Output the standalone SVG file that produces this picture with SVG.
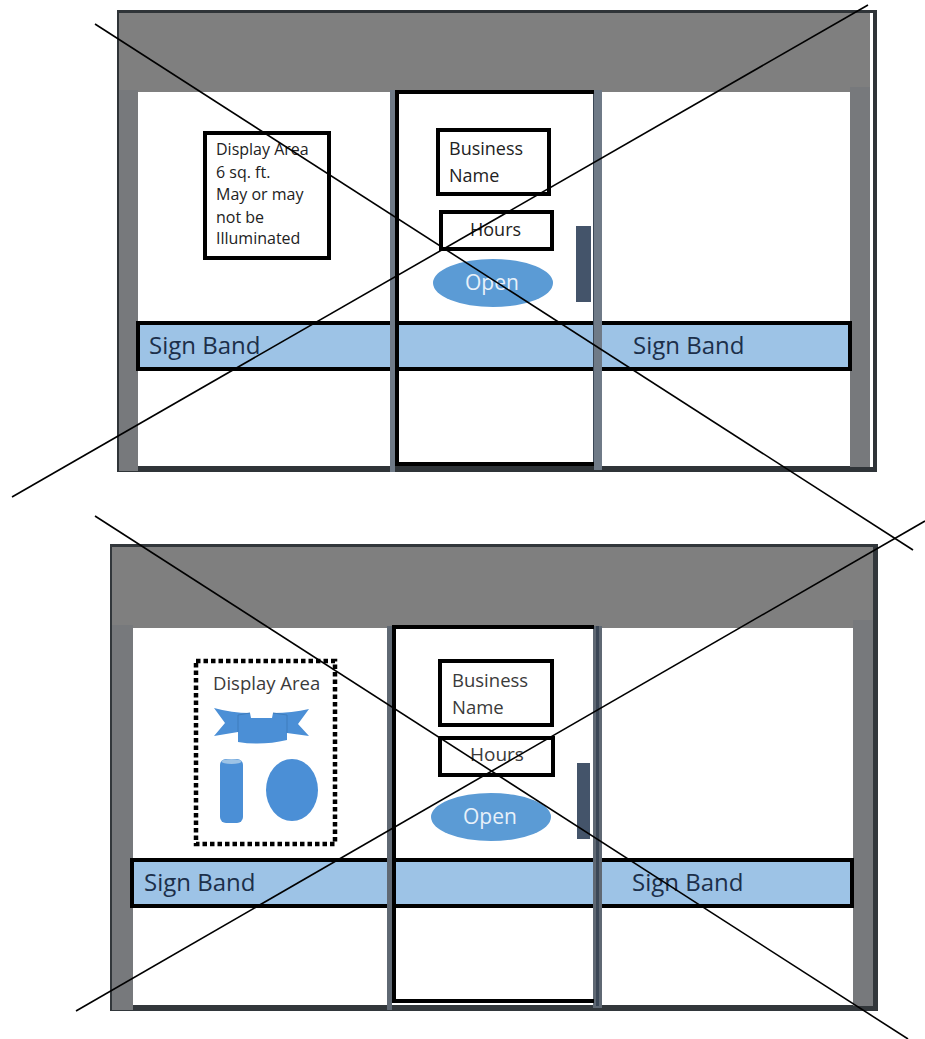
<svg xmlns="http://www.w3.org/2000/svg" width="925" height="1039" viewBox="0 0 925 1039">
<style>
.bg{fill:#fff}
.grey{fill:#7f7f7f}
.pillar{fill:#77797c}
.mull{fill:#6f7a87}
.mull2{fill:#5f6873}
.core{fill:#3b4756}
.win{fill:#fff}
.band{fill:#9dc3e6}
.bandline{stroke:#000;stroke-width:4;fill:none}
.box{fill:#fff;stroke:#000;stroke-width:4}
.door{fill:none;stroke:#000;stroke-width:4}
.blue{fill:#5b9bd5}
.blue2{fill:#4b8fd6}
.seam{fill:none;stroke:#3f7dbd;stroke-width:1}
.handle{fill:#44546a}
.t{font-family:"Open Sans","Noto Sans","Liberation Sans",sans-serif;fill:#222}
.g{fill:#3a3a3a}
.sb{font-family:"Open Sans","Noto Sans","Liberation Sans",sans-serif;fill:#1c2f4a;font-size:24px}
.w{font-family:"Open Sans","Noto Sans","Liberation Sans",sans-serif;fill:#e8f1fa;font-size:21px}
.x{stroke:#000;stroke-width:1.6;fill:none}
</style>
<rect class="bg" width="925" height="1039"/>
<g id="storefront-top">
<rect x="117" y="10" width="760" height="462" fill="#2f3438"/>
<rect x="119" y="13" width="751" height="79" class="grey"/>
<rect x="870" y="13" width="3" height="454" fill="#fff"/>
<rect x="119" y="90" width="19" height="381" class="pillar"/>
<rect x="850" y="87" width="20" height="380" class="pillar"/>
<rect x="138" y="92" width="712" height="374" class="win"/>
</g>
<g id="sign-band-top">
<rect x="138" y="323" width="712" height="46" class="band"/>
<rect x="138" y="323" width="712" height="46" class="bandline"/>
<text class="sb" x="149" y="354">Sign Band</text>
<text class="sb" x="633" y="354">Sign Band</text>
</g>
<g id="door-top">
<rect x="390" y="90" width="5" height="382" class="mull"/>
<rect x="594" y="90" width="8" height="380" class="mull"/>
<rect x="593" y="90" width="1" height="376" class="core"/>
<path d="M594 92 H397 V464 H594" class="door"/>
<rect x="576" y="226" width="15" height="76" class="handle"/>
</g>
<g id="display-top">
<rect x="205" y="133" width="124" height="125" class="box"/>
<text class="t" font-size="16"><tspan x="216" y="155">Display Area</tspan><tspan x="216" y="178">6 sq. ft.</tspan><tspan x="216" y="200">May or may</tspan><tspan x="216" y="223">not be</tspan><tspan x="216" y="244">Illuminated</tspan></text>
</g>
<g id="business-top">
<rect x="438" y="130" width="111" height="64" class="box"/>
<text class="t" font-size="18"><tspan x="449" y="155">Business</tspan><tspan x="449" y="182">Name</tspan></text>
</g>
<g id="hours-top">
<rect x="441" y="212" width="111" height="37" class="box"/>
<text class="t" font-size="18" x="470" y="236">Hours</text>
</g>
<g id="open-top">
<ellipse cx="493" cy="283" rx="60" ry="24" class="blue"/>
<text class="w" x="465" y="290">Open</text>
</g>
<g id="storefront-bottom">
<rect x="110" y="544" width="768" height="467" fill="#32373b"/>
<rect x="112" y="547" width="761" height="81" class="grey"/>
<rect x="112" y="625" width="21" height="385" class="pillar"/>
<rect x="853" y="620" width="20" height="386" class="pillar"/>
<rect x="133" y="628" width="720" height="377" class="win"/>
</g>
<g id="sign-band-bottom">
<rect x="132" y="860" width="720" height="46" class="band"/>
<rect x="132" y="860" width="720" height="46" class="bandline"/>
<text class="sb" x="144" y="891">Sign Band</text>
<text class="sb" x="632" y="891">Sign Band</text>
</g>
<g id="door-bottom">
<rect x="387" y="626" width="5" height="384" class="mull2"/>
<rect x="593" y="626" width="9" height="382" class="mull2"/>
<rect x="596" y="626" width="3" height="380" class="core"/>
<path d="M594 627 H394 V1001 H594" class="door"/>
<rect x="577" y="763" width="13" height="76" class="handle"/>
</g>
<g id="display-bottom">
<rect x="196" y="661" width="139" height="183" fill="none" stroke="#000" stroke-width="4.500" stroke-dasharray="4.500 3"/>
<text class="t g" font-size="18.500" x="213" y="690">Display Area</text>
<path class="blue2" d="M214 708 Q232 713 250 713 L251 718 L272 718 L273 713 Q292 713 309 709 L298 724 L309 736 L287 733 L287 740 Q262 746 238 742 L238 732 L214 736 L225 723 Z"/>
<path class="seam" d="M238 732 V715 L250 713 M287 733 V715 L273 713"/>
<rect x="220" y="759" width="23" height="64" rx="6" class="blue2"/>
<ellipse cx="231.500" cy="761.500" rx="10" ry="2.500" fill="#9dc3e6"/>
<ellipse cx="292" cy="790" rx="26" ry="31" class="blue2"/>
</g>
<g id="business-bottom">
<rect x="440" y="661" width="112" height="64" class="box"/>
<text class="t g" font-size="18.500"><tspan x="452" y="687">Business</tspan><tspan x="452" y="714">Name</tspan></text>
</g>
<g id="hours-bottom">
<rect x="440" y="738" width="113" height="37" class="box"/>
<text class="t g" font-size="19" x="470" y="761">Hours</text>
</g>
<g id="open-bottom">
<ellipse cx="491" cy="817" rx="60" ry="24" class="blue"/>
<text class="w" x="463" y="824">Open</text>
</g>
<g id="connectors">
<line class="x" x1="95" y1="24" x2="913" y2="550"/>
<line class="x" x1="868" y1="5" x2="12" y2="497"/>
<line class="x" x1="95" y1="516" x2="908" y2="1039"/>
<line class="x" x1="925" y1="521" x2="76" y2="1011"/>
</g>
</svg>
